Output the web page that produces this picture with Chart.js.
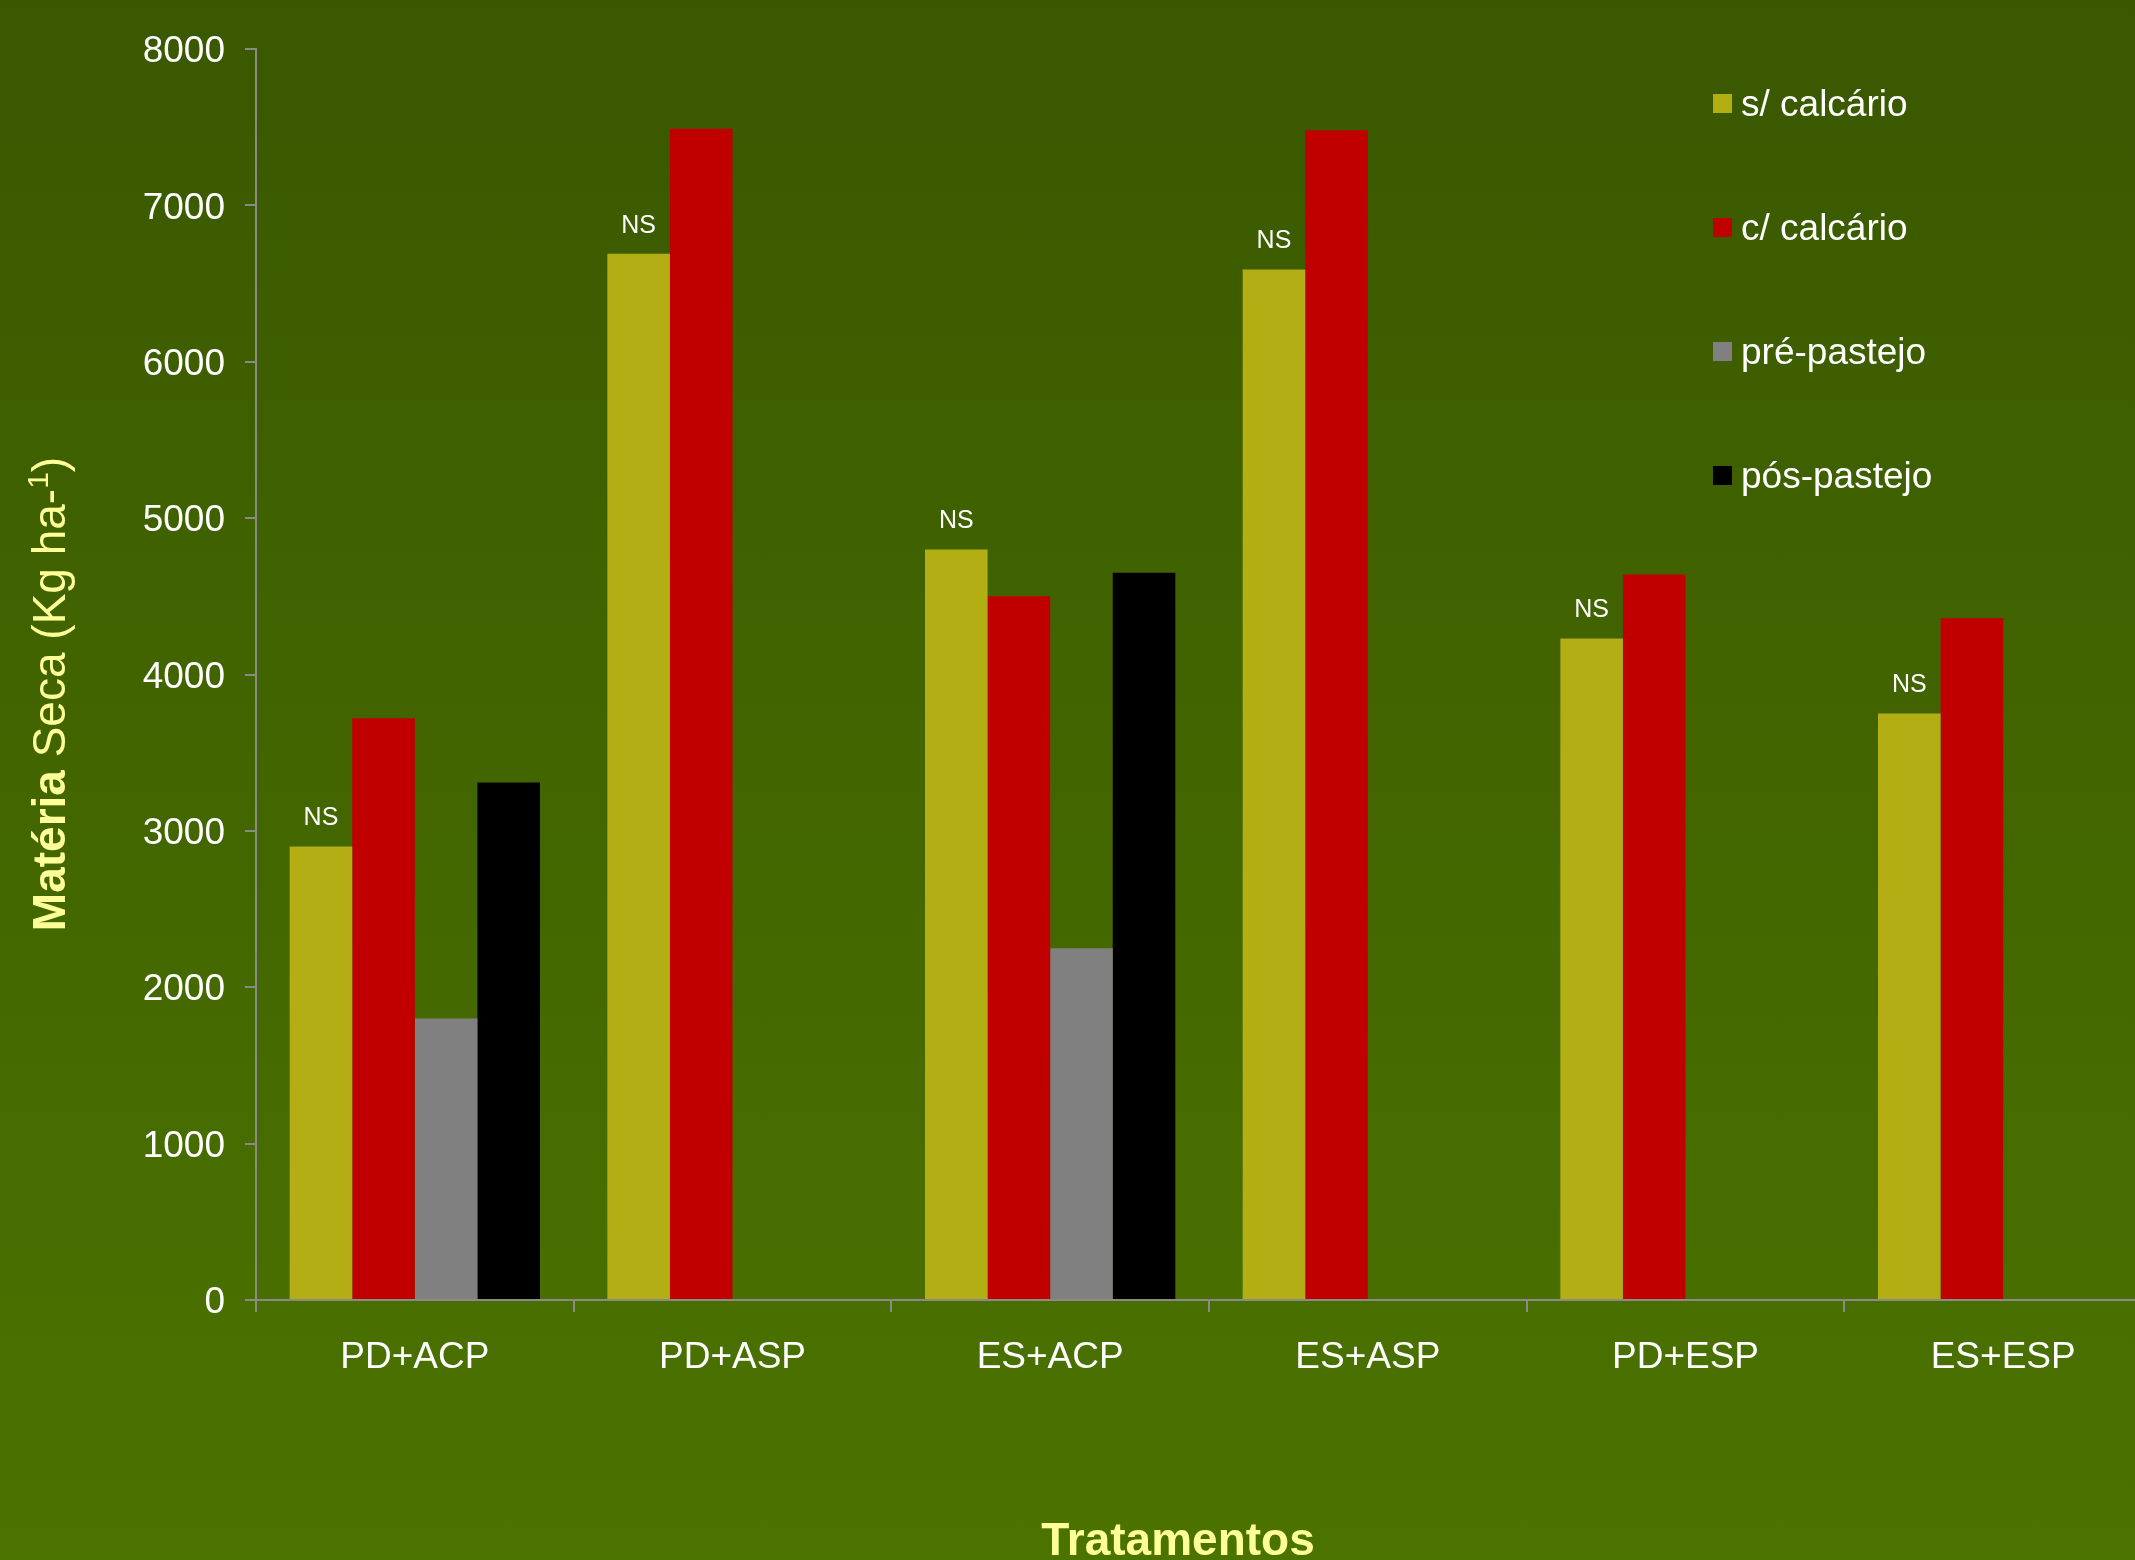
<!DOCTYPE html>
<html>
<head>
<meta charset="utf-8">
<script src="https://cdn.jsdelivr.net/npm/chart.js@4.4.0/dist/chart.umd.min.js"></script>
<style>
  html, body {
    margin: 0;
    padding: 0;
    overflow: hidden;
    background: linear-gradient(to bottom, #3a5800 0%, #4b7300 100%);
    width: 2135px;
    height: 1560px;
  }
  #wrap { width: 2162px; height: 1560px; }
</style>
</head>
<body>
<div id="wrap"><canvas id="chart" width="2162" height="1560"></canvas></div>
<script>
// data
const categories = ["PD+ACP", "PD+ASP", "ES+ACP", "ES+ASP", "PD+ESP", "ES+ESP"];
const semCalcario = [2900, 6690, 4800, 6590, 4230, 3750];
const comCalcario = [3720, 7490, 4500, 7480, 4640, 4360];
const prePastejo = [1800, null, 2250, null, null, null];
const posPastejo = [3310, null, 4650, null, null, null];
const seriesNames = ["s/ calcário", "c/ calcário", "pré-pastejo", "pós-pastejo"];
const seriesColors = ["#b2ae14", "#c00000", "#808080", "#000000"];
const nsLabels = ["NS", "NS", "NS", "NS", "NS", "NS"];

const FONT = "Arial, 'Liberation Sans', sans-serif";
const TITLE_COLOR = "#ffff99";
const AXIS_COLOR = "#8a8a8a";

// titles, legend and NS marks drawn on top of the chart
const overlay = {
  id: "overlay",
  afterDraw(chart) {
    const ctx = chart.ctx;
    ctx.save();

    // NS above the s/ calcário bars
    ctx.fillStyle = "#ffffff";
    ctx.font = "25px " + FONT;
    ctx.textAlign = "center";
    ctx.textBaseline = "middle";
    chart.getDatasetMeta(0).data.forEach((bar, i) => {
      ctx.fillText(nsLabels[i], bar.x, bar.y - 28);
    });

    // legend
    ctx.font = "37px " + FONT;
    ctx.textAlign = "left";
    seriesNames.forEach((name, i) => {
      const cy = 104 + i * 124;
      ctx.fillStyle = seriesColors[i];
      ctx.fillRect(1713, cy - 10, 19, 19);
      ctx.fillStyle = "#ffffff";
      ctx.fillText(name, 1741, cy + 2);
    });

    // x title
    ctx.fillStyle = TITLE_COLOR;
    ctx.font = "bold 46px " + FONT;
    ctx.textAlign = "center";
    ctx.textBaseline = "alphabetic";
    ctx.fillText("Tratamentos", 1178, 1555);

    // y title: bold "Matéria", superscript -1
    const parts = [
      { t: "Matéria", f: "bold 46px " + FONT, dy: 0 },
      { t: " Seca (Kg ha-", f: "46px " + FONT, dy: 0 },
      { t: "1", f: "30px " + FONT, dy: -17 },
      { t: ")", f: "46px " + FONT, dy: 0 },
    ];
    let total = 0;
    parts.forEach((p) => {
      ctx.font = p.f;
      p.w = ctx.measureText(p.t).width;
      total += p.w;
    });
    ctx.translate(65, 694);
    ctx.rotate(-Math.PI / 2);
    ctx.textAlign = "left";
    let x = -total / 2;
    parts.forEach((p) => {
      ctx.font = p.f;
      ctx.fillText(p.t, x, p.dy);
      x += p.w;
    });

    ctx.restore();
  },
};

const datasets = [semCalcario, comCalcario, prePastejo, posPastejo].map((values, i) => ({
  label: seriesNames[i],
  data: values,
  backgroundColor: seriesColors[i],
  borderWidth: 0,
}));

new Chart(document.getElementById("chart"), {
  type: "bar",
  data: { labels: categories, datasets: datasets },
  plugins: [overlay],
  options: {
    responsive: false,
    devicePixelRatio: 1,
    animation: false,
    layout: { padding: { top: 49, left: 0, right: 0, bottom: 0 } },
    datasets: {
      bar: { barPercentage: 1.0, categoryPercentage: 0.788 },
    },
    plugins: {
      legend: { display: false },
      tooltip: { enabled: false },
    },
    scales: {
      x: {
        afterFit: (s) => { s.height = 260; },
        grid: {
          drawOnChartArea: false,
          drawTicks: true,
          tickLength: 12,
          color: AXIS_COLOR,
          lineWidth: 2,
        },
        border: { display: true, color: AXIS_COLOR, width: 2 },
        ticks: {
          color: "#ffffff",
          font: { family: FONT, size: 37 },
          padding: 24,
          maxRotation: 0,
          autoSkip: false,
        },
      },
      y: {
        min: 0,
        max: 8000,
        afterFit: (s) => { s.width = 256; },
        grid: {
          drawOnChartArea: false,
          drawTicks: true,
          tickLength: 11,
          color: AXIS_COLOR,
          lineWidth: 2,
        },
        border: { display: true, color: AXIS_COLOR, width: 2 },
        ticks: {
          stepSize: 1000,
          color: "#ffffff",
          font: { family: FONT, size: 37 },
          padding: 20,
          labelOffset: 3,
          callback: (v) => String(v),
        },
      },
    },
  },
});
</script>
</body>
</html>
